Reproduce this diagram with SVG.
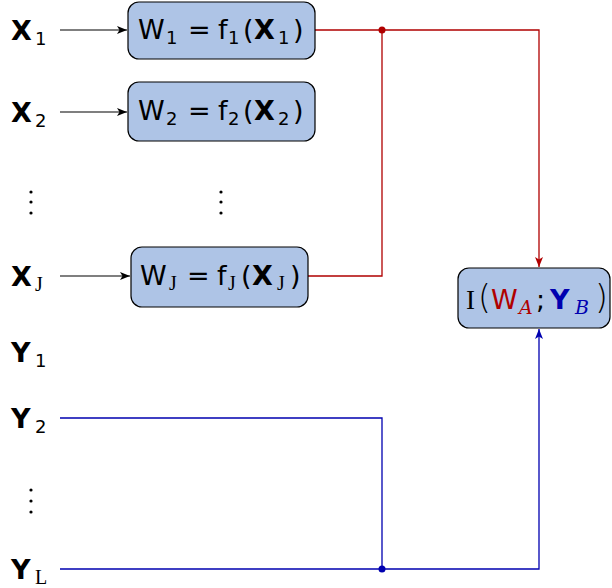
<svg xmlns="http://www.w3.org/2000/svg" width="612" height="588" viewBox="0 0 612 588">
  <style>
    text { font-family: "DejaVu Sans", "Liberation Sans", sans-serif; font-size: 27px; fill: #000; }
    .b { font-weight: bold; }
    .sub { font-size: 18px; }
    .ser { font-family: "Liberation Serif", "DejaVu Serif", serif; }
    .subs { font-family: "Liberation Serif", "DejaVu Serif", serif; font-size: 20px; }
    .par { font-size: 33px; font-weight: 200; }
    .cal { font-family: "DejaVu Serif", serif; font-style: italic; font-size: 19px; }
    .box { fill: #aec4e6; stroke: #000; stroke-width: 1.2; }
    .blk { stroke: #000; stroke-width: 1.2; fill: none; }
    .red { stroke: #b00000; stroke-width: 1.3; fill: none; }
    .blue { stroke: #0000b0; stroke-width: 1.3; fill: none; }
  </style>
  <defs>
    <marker id="ak" viewBox="0 0 10 8" refX="10" refY="4" markerWidth="10" markerHeight="8" markerUnits="userSpaceOnUse" orient="auto">
      <path d="M0,0 L10,4 L0,8 L2.5,4 Z" fill="#000"/>
    </marker>
    <marker id="ar" viewBox="0 0 10 8" refX="10" refY="4" markerWidth="10" markerHeight="8" markerUnits="userSpaceOnUse" orient="auto">
      <path d="M0,0 L10,4 L0,8 L2.5,4 Z" fill="#b00000"/>
    </marker>
    <marker id="ab" viewBox="0 0 10 8" refX="10" refY="4" markerWidth="10" markerHeight="8" markerUnits="userSpaceOnUse" orient="auto">
      <path d="M0,0 L10,4 L0,8 L2.5,4 Z" fill="#0000b0"/>
    </marker>
  </defs>

  <!-- connectors -->
  <g id="connectors">
    <line class="blk" x1="60" y1="30" x2="127" y2="30" marker-end="url(#ak)"/>
    <line class="blk" x1="60" y1="112" x2="127" y2="112" marker-end="url(#ak)"/>
    <line class="blk" x1="60" y1="276" x2="130" y2="276" marker-end="url(#ak)"/>
    <polyline class="red" points="315,30 539,30 539,267" marker-end="url(#ar)"/>
    <polyline class="red" points="308,276 382,276 382,30"/>
    <circle cx="382" cy="30" r="3.5" fill="#b00000"/>
    <polyline class="blue" points="60,418 382,418 382,569"/>
    <polyline class="blue" points="60,569 539,569 539,329" marker-end="url(#ab)"/>
    <circle cx="382" cy="569" r="3.5" fill="#0000b0"/>
  </g>

  <!-- input labels -->
  <g id="inputs">
    <text x="11" y="40"><tspan class="b">X</tspan><tspan class="sub" x="35" y="45">1</tspan></text>
    <text x="11" y="122"><tspan class="b">X</tspan><tspan class="sub" x="35" y="127">2</tspan></text>
    <g fill="#000">
      <circle cx="31" cy="192" r="1.6"/><circle cx="31" cy="202" r="1.6"/><circle cx="31" cy="213" r="1.6"/>
      <circle cx="221" cy="192" r="1.6"/><circle cx="221" cy="202" r="1.6"/><circle cx="221" cy="213" r="1.6"/>
    </g>
    <text x="11" y="286"><tspan class="b">X</tspan><tspan class="subs" x="35" y="291">J</tspan></text>
    <text x="11" y="362"><tspan class="b">Y</tspan><tspan class="sub" x="35" y="367">1</tspan></text>
    <text x="11" y="428"><tspan class="b">Y</tspan><tspan class="sub" x="35" y="433">2</tspan></text>
    <g fill="#000">
      <circle cx="31" cy="490" r="1.6"/><circle cx="31" cy="501" r="1.6"/><circle cx="31" cy="512" r="1.6"/>
    </g>
    <text x="11" y="579"><tspan class="b">Y</tspan><tspan class="subs" x="35" y="584">L</tspan></text>
  </g>

  <g id="f1">
    <rect class="box" x="128" y="2" width="187" height="57" rx="11"/>
    <text y="39"><tspan x="138">W</tspan><tspan class="sub" x="166" y="44">1</tspan><tspan x="188" y="39">=</tspan><tspan x="218">f</tspan><tspan class="sub" x="228" y="44">1</tspan><tspan x="243" y="39">(</tspan><tspan class="b" x="254">X</tspan><tspan class="sub" x="278" y="44">1</tspan><tspan x="293" y="39">)</tspan></text>
  </g>
  <g id="f2">
    <rect class="box" x="128" y="82" width="187" height="59" rx="11"/>
    <text y="120"><tspan x="138">W</tspan><tspan class="sub" x="166" y="125">2</tspan><tspan x="188" y="120">=</tspan><tspan x="218">f</tspan><tspan class="sub" x="228" y="125">2</tspan><tspan x="243" y="120">(</tspan><tspan class="b" x="254">X</tspan><tspan class="sub" x="278" y="125">2</tspan><tspan x="293" y="120">)</tspan></text>
  </g>
  <g id="fJ">
    <rect class="box" x="131" y="247" width="177" height="60" rx="11"/>
    <text y="285"><tspan x="140">W</tspan><tspan class="subs" x="169" y="290">J</tspan><tspan x="187" y="285">=</tspan><tspan x="217">f</tspan><tspan class="subs" x="228" y="290">J</tspan><tspan x="241" y="285">(</tspan><tspan class="b" x="252">X</tspan><tspan class="subs" x="277" y="290">J</tspan><tspan x="290" y="285">)</tspan></text>
  </g>
  <g id="mi">
    <rect class="box" x="458" y="268" width="152" height="60" rx="11"/>
    <text y="309"><tspan class="ser" x="466">I</tspan><tspan class="par" x="478">(</tspan><tspan fill="#b00000" x="491">W</tspan><tspan class="cal" fill="#b00000" x="519" y="314">A</tspan><tspan x="536" y="309">;</tspan><tspan class="b" fill="#0000b0" x="550">Y</tspan><tspan class="cal" fill="#0000b0" x="575" y="314">B</tspan><tspan class="par" x="595" y="309">)</tspan></text>
  </g>
</svg>
